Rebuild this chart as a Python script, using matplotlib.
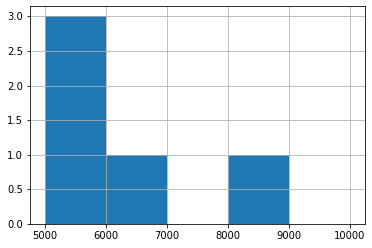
import matplotlib
matplotlib.use("Agg")
import matplotlib.pyplot as plt

# sample values
values = [5200, 5500, 5800, 6500, 8500]
bin_edges = [5000, 6000, 7000, 8000, 9000, 10000]

fig = plt.figure(figsize=(372 / 72, 248 / 72), dpi=72)
ax = fig.add_axes([30 / 372, 24 / 248, 335 / 372, 218 / 248])
ax.hist(values, bins=bin_edges, color='#1f77b4')
ax.grid(True, color='#b0b0b0', linewidth=0.8)
ax.set_xticks([5000, 6000, 7000, 8000, 9000, 10000])
ax.set_yticks([0.0, 0.5, 1.0, 1.5, 2.0, 2.5, 3.0])
ax.tick_params(labelsize=10)

fig.savefig("out.png", dpi=72)
